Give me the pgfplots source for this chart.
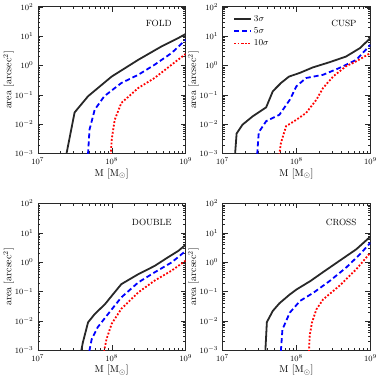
\documentclass[border=0pt]{standalone}
\usepackage{pgfplots}
\pgfplotsset{compat=1.18}
\usepgfplotslibrary{groupplots}

\definecolor{dgray}{RGB}{40,40,40}

\pgfplotsset{
  s3/.style={dgray, line width=1.8pt},
  s5/.style={blue, line width=1.8pt, dash pattern=on 5pt off 3pt},
  s10/.style={red, line width=1.8pt, dash pattern=on 1.8pt off 1.8pt},
}
\tikzset{panel/.style={anchor=east, font=\small}}

\begin{document}
\begin{tikzpicture}
\begin{groupplot}[
  group style={group size=2 by 2, horizontal sep=37pt, vertical sep=50pt},
  width=148pt, height=147pt, scale only axis,
  xmode=log, ymode=log,
  xmin=1e7, xmax=1e9, ymin=1e-3, ymax=1e2,
  xtick={1e7,1e8,1e9}, ytick={1e-3,1e-2,1e-1,1e0,1e1,1e2},
  xlabel={M [M$_\odot$]}, ylabel={area [arcsec$^2$]},
  label style={font=\normalsize},
  xlabel style={yshift=3pt}, ylabel style={yshift=-6pt},
  tick label style={font=\footnotesize},
  xticklabel style={yshift=-1pt},
  yticklabel style={xshift=-1pt},
  axis line style={dgray}, tick style={dgray},
  major tick length=5pt, minor tick length=2.5pt,
  legend cell align=left,
  legend style={at={(0.05,0.97)}, anchor=north west, draw=none, fill=none, font=\small, row sep=1pt},
]
% FOLD
\nextgroupplot
\addplot[s3] coordinates {(2.44e7,5e-4) (2.45e7,1e-3) (3.15e7,0.025) (4.79e7,0.0891) (1e8,0.417) (2.29e8,1.55) (4.68e8,4.37) (7.94e8,8.51) (1e9,11.7)};
\addplot[s5] coordinates {(4.78e7,5e-4) (4.79e7,1e-3) (5.01e7,6.46e-3) (5.89e7,0.0309) (7.94e7,0.0891) (1.35e8,0.251) (2.29e8,0.479) (3.80e8,1.05) (6.46e8,2.63) (1e9,7.41)};
\addplot[s10] coordinates {(9.75e7,5e-4) (9.77e7,1e-3) (1e8,3.02e-3) (1.10e8,0.0141) (1.35e8,0.0525) (2.29e8,0.170) (3.80e8,0.372) (6.46e8,1.05) (1e9,2.45)};
\node[panel] at (rel axis cs:0.93,0.885) {FOLD};
% CUSP
\nextgroupplot
\addlegendimage{dgray, line width=1.8pt}
\addlegendentry{$3\sigma$}
\addlegendimage{blue, line width=1.8pt, dash pattern=on 5pt off 3pt}
\addlegendentry{$5\sigma$}
\addlegendimage{red, line width=1.8pt, dash pattern=on 1.8pt off 1.8pt}
\addlegendentry{$10\sigma$}
\addplot[s3, forget plot] coordinates {(1.47e7,5e-4) (1.48e7,1e-3) (1.55e7,4.79e-3) (1.86e7,9.55e-3) (2.57e7,0.0186) (3.89e7,0.0372) (4.79e7,0.132) (6.17e7,0.251) (7.94e7,0.417) (1.10e8,0.550) (1.66e8,0.851) (2.82e8,1.29) (4.68e8,2.0) (7.24e8,3.89) (1e9,8.51)};
\addplot[s5, forget plot] coordinates {(2.94e7,5e-4) (2.95e7,1e-3) (3.09e7,5.25e-3) (3.89e7,0.0126) (5.89e7,0.0209) (8.13e7,0.0676) (1e8,0.195) (1.35e8,0.372) (2.29e8,0.479) (3.80e8,0.813) (6.46e8,1.55) (1e9,5.01)};
\addplot[s10, forget plot] coordinates {(5.88e7,5e-4) (5.89e7,1e-3) (6.17e7,2.29e-3) (7.24e7,8.51e-3) (1e8,0.0141) (1.35e8,0.0240) (1.86e8,0.0676) (2.29e8,0.170) (3.16e8,0.427) (4.68e8,0.933) (6.46e8,1.38) (1e9,2.63)};
\node[panel] at (rel axis cs:0.93,0.885) {CUSP};
% DOUBLE
\nextgroupplot
\addplot[s3] coordinates {(3.88e7,5e-4) (3.89e7,1e-3) (4.07e7,1.82e-3) (4.79e7,8.91e-3) (5.89e7,0.0170) (8.13e7,0.0372) (1e8,0.0708) (1.35e8,0.178) (2.29e8,0.389) (3.80e8,0.741) (5.75e8,1.45) (7.94e8,2.40) (1e9,3.89)};
\addplot[s5] coordinates {(5.0e7,5e-4) (5.01e7,1e-3) (5.37e7,2.40e-3) (6.46e7,6.03e-3) (8.91e7,0.0170) (1.35e8,0.0631) (2.29e8,0.204) (3.80e8,0.447) (6.46e8,0.977) (1e9,2.40)};
\addplot[s10] coordinates {(7.93e7,5e-4) (7.94e7,1e-3) (8.51e7,2.40e-3) (1e8,7.94e-3) (1.35e8,0.0257) (2.29e8,0.0933) (3.80e8,0.234) (6.46e8,0.513) (1e9,1.12)};
\node[panel] at (rel axis cs:0.93,0.87) {DOUBLE};
% CROSS
\nextgroupplot
\addplot[s3] coordinates {(3.79e7,5e-4) (3.80e7,1e-3) (3.98e7,9.1e-3) (4.79e7,0.0219) (5.89e7,0.0398) (8.13e7,0.0794) (1e8,0.117) (1.55e8,0.229) (2.29e8,0.457) (3.80e8,1.10) (6.46e8,2.75) (1e9,7.41)};
\addplot[s5] coordinates {(6.16e7,5e-4) (6.17e7,1e-3) (6.46e7,5.1e-3) (8.13e7,0.0191) (1.12e8,0.0479) (1.70e8,0.0912) (2.82e8,0.229) (4.68e8,0.646) (7.24e8,1.86) (1e9,4.57)};
\addplot[s10] coordinates {(1.47e8,5e-4) (1.48e8,1e-3) (1.51e8,3.1e-3) (1.62e8,8.7e-3) (1.86e8,0.0245) (2.29e8,0.0537) (3.80e8,0.155) (6.46e8,0.575) (1e9,2.09)};
\node[panel] at (rel axis cs:0.93,0.87) {CROSS};
\end{groupplot}
\path (current bounding box.east) ++(3pt,0) coordinate (padr);
\end{tikzpicture}
\end{document}
